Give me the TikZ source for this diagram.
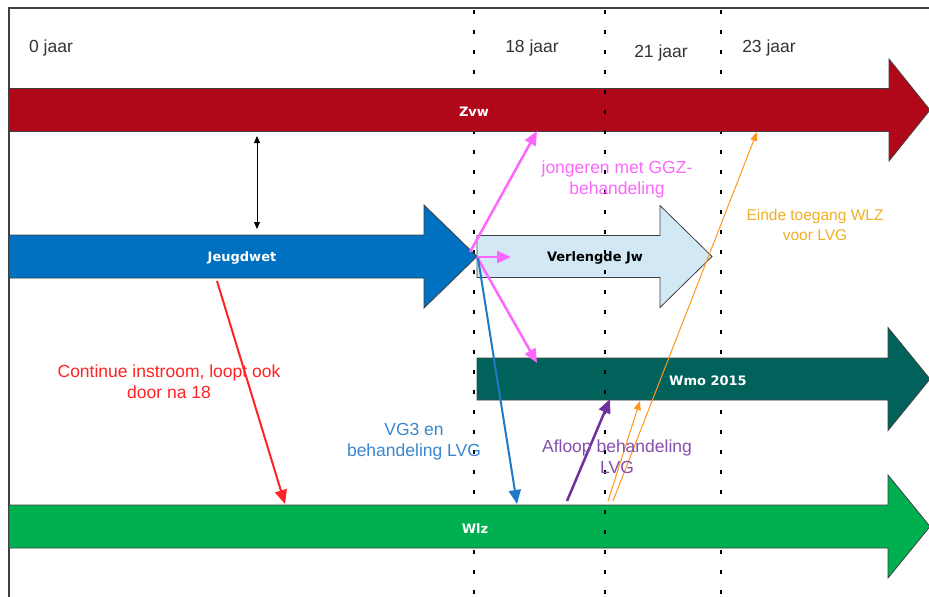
\documentclass[tikz,border=0pt]{standalone}
\usepackage{fontspec}
\setmainfont{Liberation Sans}
\newfontfamily\verdana{DejaVu Sans}
\usetikzlibrary{arrows.meta}

\definecolor{zvwred}{RGB}{176,8,24}
\definecolor{jwblue}{RGB}{0,112,192}
\definecolor{vjwblue}{RGB}{210,233,245}
\definecolor{wmoteal}{RGB}{0,98,90}
\definecolor{wlzgreen}{RGB}{0,176,80}
\definecolor{ggzpink}{RGB}{255,102,255}
\definecolor{lvgblue}{RGB}{30,120,200}
\definecolor{lvgtext}{RGB}{58,135,208}
\definecolor{afloop}{RGB}{112,48,160}
\definecolor{wlzorange}{RGB}{255,150,30}
\definecolor{wlztext}{RGB}{240,175,35}
\definecolor{instroom}{RGB}{255,35,35}

\newcommand{\blockarrow}[7]{\draw[blk, fill=#1] (#2,#5-#6) -- (#3,#5-#6) -- (#3,#5-#7) -- (#4,#5) -- (#3,#5+#7) -- (#3,#5+#6) -- (#2,#5+#6) -- cycle;}

\tikzset{
  blk/.style={draw=black!75, line width=0.8pt},
  lbl/.style={font=\verdana\bfseries\fontsize{13}{15}\selectfont, text=white, inner sep=0pt},
  note/.style={align=center, font=\fontsize{17.5}{21}\selectfont, inner sep=0pt},
  jaar/.style={font=\fontsize{17.5}{21}\selectfont, text=black!80, inner sep=0pt},
  tick/.style={line width=2.5pt, dash pattern=on 4pt off 16pt},
  big/.style={-{Triangle[length=14pt,width=12pt]}},
  small/.style={-{Triangle[length=9pt,width=7pt]}}
}

\begin{document}
\begin{tikzpicture}[x=1pt, y=-1pt]
\useasboundingbox[fill=white] (0,0) rectangle (929,597);
\draw[black!75, line width=1.5pt] (9,597) -- (9,8) -- (929,8);

\draw[tick] (474,10) -- (474,597);
\draw[tick] (721,10) -- (721,597);

\node[jaar] (j0) at (51,48) {0 jaar};
\node[jaar] (j18) at (532,48) {18 jaar};
\node[jaar] (j21) at (661,53) {21 jaar};
\node[jaar] (j23) at (769,48) {23 jaar};

\blockarrow{zvwred}{9}{889}{930}{110}{21.5}{51}
\blockarrow{jwblue}{9}{424}{477}{256.5}{21.5}{51.5}
\blockarrow{vjwblue}{477}{660}{712}{256.5}{21}{51}
\blockarrow{wmoteal}{477}{888}{930}{379}{21}{51.5}
\blockarrow{wlzgreen}{9}{888}{930}{526.5}{21.5}{51.5}

\node[lbl] (zvw) at (474,112) {Zvw};
\node[lbl] (jw) at (242,258) {Jeugdwet};
\node[lbl, text=black] (vjw) at (595,258) {Verlengde Jw};
\node[lbl] (wmo) at (708,381) {Wmo 2015};
\node[lbl] (wlz) at (475,529) {Wlz};

\draw[tick] (605,10) -- (605,597);

\coordinate (a1) at (257,136);
\coordinate (a2) at (257,229);
\coordinate (r1) at (217,281);
\coordinate (r2) at (285,504);
\coordinate (p0) at (470,252);
\coordinate (p1) at (477,257);
\coordinate (p2) at (537,131);
\coordinate (p3) at (511,257);
\coordinate (p4) at (537,363);
\coordinate (b1) at (478,258);
\coordinate (b2) at (517,504);
\coordinate (v1) at (567,501);
\coordinate (v2) at (610,399);
\coordinate (o1) at (608,501);
\coordinate (o2) at (640,401);
\coordinate (o3) at (613,501);
\coordinate (o4) at (757,132);

\draw[{Triangle[length=7pt,width=6pt]}-{Triangle[length=7pt,width=6pt]}, line width=0.8pt] (a1) -- (a2);
\draw[big, instroom, line width=2pt] (r1) -- (r2);
\draw[big, ggzpink, line width=2.5pt] (p0) -- (p2);
\draw[big, ggzpink, line width=2.5pt] (p1) -- (p3);
\draw[big, ggzpink, line width=2.5pt] (p1) -- (p4);
\draw[big, lvgblue, line width=2pt] (b1) -- (b2);
\draw[big, afloop, line width=2.5pt] (v1) -- (v2);
\draw[small, wlzorange, line width=1pt] (o1) -- (o2);
\draw[small, wlzorange, line width=1pt] (o3) -- (o4);

\node[note, text=instroom] (n1) at (169,382) {Continue instroom, loopt ook\\door na 18};
\node[note, text=ggzpink] (n2) at (617,179) {jongeren met GGZ-\\behandeling};
\node[note, text=lvgtext] (n3) at (414,442) {VG3 en\\behandeling LVG};
\node[note, text=afloop!85] (n4) at (617,457) {Afloop behandeling\\LVG};
\node[note, text=wlztext, font=\fontsize{15.5}{20}\selectfont] (n5) at (815,225) {Einde toegang WLZ\\voor LVG};
\end{tikzpicture}
\end{document}
